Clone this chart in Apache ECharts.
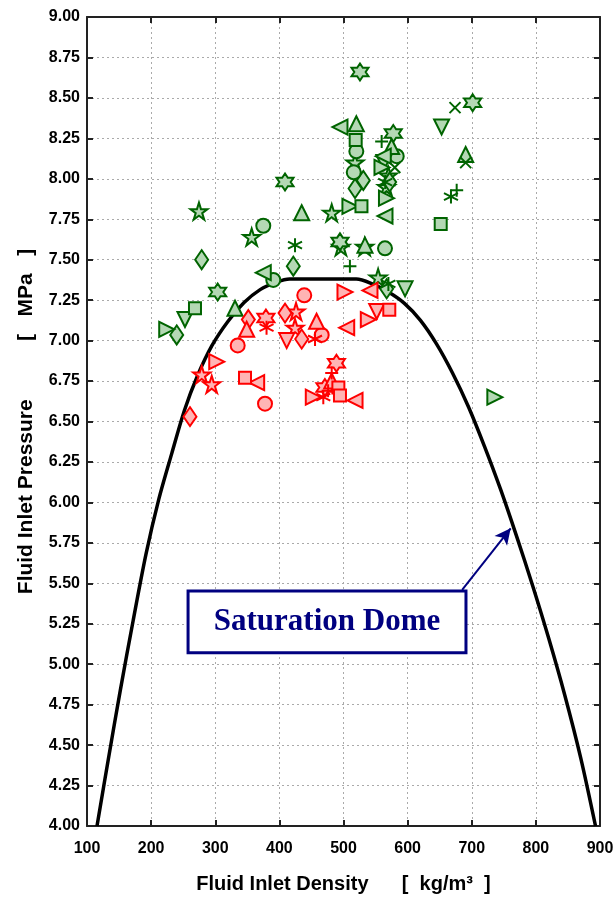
<!DOCTYPE html>
<html>
<head>
<meta charset="utf-8">
<script src="https://cdn.jsdelivr.net/npm/echarts@6/dist/echarts.min.js"></script>
<style>
  html, body { margin: 0; padding: 0; background: #fff; }
  #chart { width: 613px; height: 900px; }
</style>
</head>
<body>
<div id="chart"></div>
<script>
// saturation dome, [density, pressure]
const domeLeft = [
  [115.6, 4.00], [134, 4.43], [152, 4.84], [172, 5.27], [192, 5.68], [212, 6.02],
  [232, 6.30], [252, 6.57], [272, 6.78], [295, 6.97], [320, 7.12], [345, 7.235],
  [370, 7.315], [395, 7.36], [416, 7.38]
];
const domeRight = [
  [520, 7.38], [545, 7.35], [570, 7.30], [595, 7.23], [620, 7.125], [645, 6.98],
  [670, 6.80], [695, 6.59], [720, 6.345], [745, 6.08], [770, 5.79], [795, 5.485],
  [820, 5.16], [845, 4.81], [870, 4.42], [893, 4.00]
];

// green marks (above the dome)
const gStar = [[274.6, 7.80], [356.8, 7.64], [481.6, 7.79], [518, 8.10], [570, 8.02], [567, 7.95], [496, 7.58], [554, 7.39], [533, 7.58]];
const gHexagram = [[303.8, 7.30], [408.8, 7.98], [525.7, 8.66], [701.4, 8.47], [577.6, 8.28], [494.5, 7.61]];
const gDiamond = [[278.8, 7.50], [239.9, 7.035], [421.7, 7.46], [530.9, 7.99], [518, 7.94], [567.3, 7.32], [572, 7.98]];
const gCircle = [[374.9, 7.71], [390.5, 7.375], [520, 8.17], [516, 8.04], [583, 8.14], [564.7, 7.57]];
const gTriUp = [[330.8, 7.20], [434.8, 7.79], [520, 8.34], [690.5, 8.15], [533.5, 7.59], [575, 8.20]];
const gTriDown = [[252.8, 7.13], [653, 8.32], [596, 7.32], [563, 8.10]];
const gTriLeft = [[374.9, 7.42], [494.5, 8.32], [564.7, 7.77], [562, 8.14]];
const gTriRight = [[224.3, 7.07], [510, 7.83], [567, 7.88], [560, 8.07], [736, 6.65]];
const gSquare = [[268.4, 7.20], [651.6, 7.72], [528, 7.83], [519, 8.24]];
const gPlus = [[510, 7.46], [676.5, 7.93], [559.5, 8.23]];
const gCross = [[673.9, 8.44], [690.5, 8.10], [580, 8.07]];
const gAsterisk = [[424.4, 7.59], [667.6, 7.89], [565, 7.98], [570, 7.35]];

// red marks (below the dome)
const rStar = [[426, 7.18], [424.4, 7.08], [278.9, 6.79], [294.5, 6.73]];
const rHexagram = [[379, 7.14], [489, 6.86], [471, 6.71]];
const rDiamond = [[351.6, 7.13], [408.8, 7.17], [434.8, 7.01], [260.6, 6.53]];
const rCircle = [[438.8, 7.28], [335, 6.97], [466, 7.035], [377.6, 6.61]];
const rTriUp = [[349, 7.07], [458, 7.12], [481.6, 6.75]];
const rTriDown = [[411.4, 7.00], [551.8, 7.18]];
const rTriLeft = [[505, 7.08], [541.3, 7.31], [364.6, 6.74], [518, 6.63]];
const rTriRight = [[502.3, 7.30], [302.3, 6.87], [452.9, 6.65], [538.7, 7.13]];
const rSquare = [[571.4, 7.19], [346.4, 6.77], [492, 6.71], [494.5, 6.66]];
const rPlus = [[481.6, 6.80], [476, 6.69]];
const rAsterisk = [[380, 7.08], [455.6, 7.01], [468.5, 6.65]];

// annotation box corners and arrow, in data units
const boxCorners = [[257.6, 5.453], [691, 5.07]];
const arrowEnds = [[685, 5.46], [760.7, 5.84]];

const SYM = {
  star: { s: "path://M100,0L122.45,69.1L195.1,69.1L136.33,111.8L158.78,180.9L100,138.2L41.22,180.9L63.67,111.8L4.9,69.1L77.55,69.1Z", size: 17 },
  hexagram: { s: "path://M100,0L128.87,50L186.6,50L157.7,100L186.6,150L128.87,150L100,200L71.13,150L13.4,150L42.3,100L13.4,50L71.13,50Z", size: 17 },
  diamond: { s: "diamond", size: [13, 19] },
  circle: { s: "circle", size: 14 },
  triUp: { s: "path://M5,0L10,9L0,9Z", size: 15 },
  triDown: { s: "path://M0,0L10,0L5,9Z", size: 15 },
  triLeft: { s: "path://M9,0L9,10L0,5Z", size: 15 },
  triRight: { s: "path://M0,0L0,10L9,5Z", size: 15 },
  square: { s: "rect", size: 12 },
  plus: { s: "path://M5,0L5,10M0,5L10,5", size: 13, line: true },
  cross: { s: "path://M0,0L10,10M10,0L0,10", size: 11, line: true },
  asterisk: { s: "path://M5,0L5,10M0.67,2.5L9.33,7.5M0.67,7.5L9.33,2.5", size: 14, line: true }
};

const GREEN = { edge: "#006400", fill: "#b4d8b4" };
const RED = { edge: "#ff0000", fill: "#ffb4b4" };

function marks(name, data, kind, pal) {
  const k = SYM[kind];
  return {
    name: name,
    type: "scatter",
    data: data,
    symbol: k.s,
    symbolSize: k.size,
    z: 5,
    itemStyle: {
      color: k.line ? pal.edge : pal.fill,
      borderColor: pal.edge,
      borderWidth: 2,
      opacity: 1
    },
    emphasis: { disabled: true }
  };
}

const AXIS_FONT = "'Liberation Sans Narrow', 'Arial Narrow', 'Liberation Sans', Arial, sans-serif";

const chart = echarts.init(document.getElementById("chart"), null, { renderer: "canvas" });

const scatterSeries = [
  marks("gStar", gStar, "star", GREEN),
  marks("gHexagram", gHexagram, "hexagram", GREEN),
  marks("gDiamond", gDiamond, "diamond", GREEN),
  marks("gCircle", gCircle, "circle", GREEN),
  marks("gTriUp", gTriUp, "triUp", GREEN),
  marks("gTriDown", gTriDown, "triDown", GREEN),
  marks("gTriLeft", gTriLeft, "triLeft", GREEN),
  marks("gTriRight", gTriRight, "triRight", GREEN),
  marks("gSquare", gSquare, "square", GREEN),
  marks("gPlus", gPlus, "plus", GREEN),
  marks("gCross", gCross, "cross", GREEN),
  marks("gAsterisk", gAsterisk, "asterisk", GREEN),
  marks("rStar", rStar, "star", RED),
  marks("rHexagram", rHexagram, "hexagram", RED),
  marks("rDiamond", rDiamond, "diamond", RED),
  marks("rCircle", rCircle, "circle", RED),
  marks("rTriUp", rTriUp, "triUp", RED),
  marks("rTriDown", rTriDown, "triDown", RED),
  marks("rTriLeft", rTriLeft, "triLeft", RED),
  marks("rTriRight", rTriRight, "triRight", RED),
  marks("rSquare", rSquare, "square", RED),
  marks("rPlus", rPlus, "plus", RED),
  marks("rAsterisk", rAsterisk, "asterisk", RED)
];

const tickStyle = { show: true, inside: true, length: 6, lineStyle: { color: "#222", width: 2 } };

chart.setOption({
  animation: false,
  grid: { left: 87, right: 13, top: 17, bottom: 74, outerBoundsMode: "none" },
  xAxis: [{
    type: "value", min: 100, max: 900, interval: 100,
    name: "Fluid Inlet Density      [  kg/m³  ]",
    nameLocation: "middle", nameGap: 48,
    nameTextStyle: { fontFamily: AXIS_FONT, fontWeight: "bold", fontSize: 20, color: "#000" },
    axisLine: { show: true, onZero: false, lineStyle: { color: "#222", width: 2 } },
    axisTick: tickStyle,
    axisLabel: { fontFamily: AXIS_FONT, fontWeight: "bold", fontSize: 16, color: "#000", margin: 15 },
    splitLine: { show: true, lineStyle: { type: [2, 3], color: "#aaa", width: 1 } }
  }, {
    type: "value", min: 100, max: 900, interval: 100, position: "top",
    axisLine: { show: true, onZero: false, lineStyle: { color: "#222", width: 2 } },
    axisTick: tickStyle, axisLabel: { show: false }, splitLine: { show: false }
  }],
  yAxis: [{
    type: "value", min: 4, max: 9, interval: 0.25,
    name: "Fluid Inlet Pressure          [   MPa   ]",
    nameLocation: "middle", nameGap: 50,
    nameTextStyle: { fontFamily: AXIS_FONT, fontWeight: "bold", fontSize: 21, color: "#000" },
    axisLine: { show: true, onZero: false, lineStyle: { color: "#222", width: 2 } },
    axisTick: tickStyle,
    axisLabel: { fontFamily: AXIS_FONT, fontWeight: "bold", fontSize: 16, color: "#000", margin: 7,
      formatter: v => v.toFixed(2) },
    splitLine: { show: true, lineStyle: { type: [2, 3], color: "#aaa", width: 1 } }
  }, {
    type: "value", min: 4, max: 9, interval: 0.25, position: "right",
    axisLine: { show: true, onZero: false, lineStyle: { color: "#222", width: 2 } },
    axisTick: tickStyle, axisLabel: { show: false }, splitLine: { show: false }
  }],
  series: [{
    name: "dome",
    type: "line",
    data: domeLeft.concat(domeRight),
    showSymbol: false,
    smooth: 0.3,
    z: 2,
    lineStyle: { color: "#000", width: 3.5 },
    emphasis: { disabled: true },
    markArea: {
      silent: true,
      itemStyle: { color: "#fff", borderColor: "#000080", borderWidth: 3 },
      label: {
        show: true, position: "inside",
        formatter: "Saturation Dome",
        fontFamily: "'Liberation Serif', 'Times New Roman', serif",
        fontWeight: "bold", fontSize: 31, color: "#000080"
      },
      data: [[{ coord: boxCorners[0] }, { coord: boxCorners[1] }]]
    },
    markLine: {
      silent: true,
      symbol: ["none", "arrow"],
      symbolSize: [12, 16],
      label: { show: false },
      lineStyle: { color: "#000080", width: 2, type: "solid" },
      data: [[{ coord: arrowEnds[0] }, { coord: arrowEnds[1] }]]
    }
  }].concat(scatterSeries)
});
</script>
</body>
</html>
